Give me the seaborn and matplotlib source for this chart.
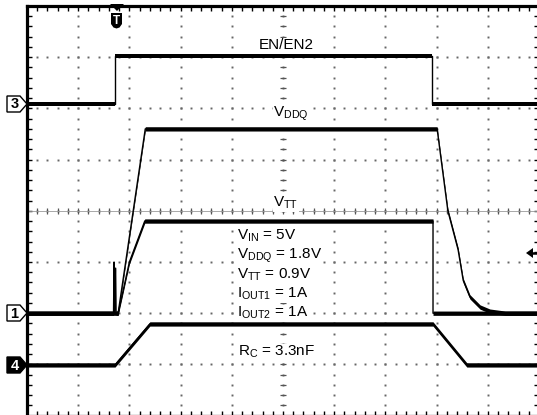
import numpy as np
import pandas as pd
import matplotlib
matplotlib.use("Agg")
import matplotlib.pyplot as plt
from matplotlib.patches import Polygon
import seaborn as sns

# ---- captured waveforms (time in screen divisions, 10 div across) ----
# CH3: EN/EN2 (level in divisions)
en_t = [0.0, 1.72, 1.72, 7.91, 7.91, 10.0]
en_div = [0.0, 0.0, 0.94, 0.94, 0.0, 0.0]

# CH1: VDDQ and VTT (volts, 0.5 V/div)
vddq_t = [0.0, 1.78, 2.31, 8.01, 8.22, 8.42, 8.52, 8.65, 8.85, 9.04, 9.34, 10.0]
vddq_v = [0.0, 0.0, 1.8, 1.8, 1.0, 0.62, 0.32, 0.16, 0.06, 0.02, 0.0, 0.0]

vtt_t = [0.0, 1.69, 1.70, 1.71, 1.73, 1.74, 1.78, 2.00, 2.30, 7.93, 7.93, 10.0]
vtt_v = [0.0, 0.0, 0.50, 0.0, 0.44, 0.0, 0.0, 0.50, 0.9, 0.9, 0.0, 0.0]

# CH4: soft-start ramp (level in divisions)
ss_t = [0.0, 1.72, 2.40, 7.93, 8.59, 10.0]
ss_div = [0.0, 0.0, 0.8, 0.8, 0.0, 0.0]

CH1_V_PER_DIV = 0.5
CH3_POS, CH1_POS, CH4_POS = 6.09, 2.0, 0.99

W, H = 537, 415
sns.set_style("white")
plt.rcParams["font.family"] = ["Liberation Sans", "DejaVu Sans"]
plt.rcParams["mathtext.default"] = "regular"

fig = plt.figure(figsize=(W / 100, H / 100), dpi=100)
ax = fig.add_axes([27 / W, -0.6 / H, 512 / W, 409.6 / H])
ax.set_xlim(0, 10)
ax.set_ylim(0, 8)


def fx(x, y):
    """pixel position (from top-left) -> figure fraction"""
    return x / W, 1 - y / H


# graticule: dotted division lines
sub = np.round(np.arange(0, 10.001, 0.2), 3)
subv = np.round(np.arange(0, 8.001, 0.2), 3)
for i in range(1, 10):
    ax.plot([i] * len(subv), subv, ls="none", marker="s", ms=1.4, mew=0,
            color="#666666", zorder=1)
for j in range(1, 8):
    ax.plot(sub, [j] * len(sub), ls="none", marker="s", ms=1.4, mew=0,
            color="#666666", zorder=1)
# centre crosshair with fine ticks
ax.plot(sub, [4] * len(sub), ls="none", marker="|", ms=4.5, mew=0.9,
        color="#555555", zorder=1)
ax.plot([5] * len(subv), subv, ls="none", marker="_", ms=4.5, mew=0.9,
        color="#555555", zorder=1)
ax.axhline(4, color="#9a9a9a", lw=0.6, zorder=1)

# frame ticks
ax.set_xticks(np.arange(0, 10.01, 1))
ax.set_yticks(np.arange(0, 8.01, 1))
ax.set_xticks(sub, minor=True)
ax.set_yticks(subv, minor=True)
ax.tick_params(which="both", direction="in", length=3.4, width=1.0,
               color="black", top=True, bottom=True, left=True, right=True,
               labelbottom=False, labelleft=False)
for s in ax.spines.values():
    s.set_visible(True)
    s.set_color("black")
    s.set_linewidth(2.3)

# annotations (white backing hides the graticule, traces stay on top)
txt = dict(fontsize=11, color="black", ha="left", va="baseline", zorder=2,
           transform=fig.transFigure,
           bbox=dict(facecolor="white", edgecolor="none", pad=0.3))
labels = [
    ("EN/EN2", 259, 49),
    ("V$_{DDQ}$", 273, 117),
    ("V$_{TT}$", 273, 207),
    ("V$_{IN}$ = 5V", 237, 240),
    ("V$_{DDQ}$ = 1.8V", 237, 259),
    ("V$_{TT}$ = 0.9V", 237, 279),
    ("I$_{OUT1}$ = 1A", 237, 298),
    ("I$_{OUT2}$ = 1A", 237, 317),
    ("R$_{C}$ = 3.3nF", 238, 356),
]
for s, x, y in labels:
    ax.text(*fx(x, y), s, **txt)

# traces
traces = [
    (en_t, np.array(en_div) + CH3_POS),
    (vddq_t, np.array(vddq_v) / CH1_V_PER_DIV + CH1_POS),
    (vtt_t, np.array(vtt_v) / CH1_V_PER_DIV + CH1_POS),
    (ss_t, np.array(ss_div) + CH4_POS),
]
for t, y in traces:
    df = pd.DataFrame({"t": t, "y": y})
    sns.lineplot(data=df, x="t", y="y", estimator=None, sort=False,
                 color="black", lw=1.0, ax=ax, zorder=3)
    band = ax.fill_between(df["t"], df["y"] - 0.042, df["y"] + 0.042,
                           color="black", lw=0, zorder=3)
    band.set_sketch_params(scale=1.0, length=3, randomness=2)
ax.set_xlabel("")
ax.set_ylabel("")


# channel ground markers
def ch_marker(y, label, filled):
    pts = [fx(7, y - 8), fx(20, y - 8), fx(27, y), fx(20, y + 8), fx(7, y + 8)]
    fig.patches.append(Polygon(pts, closed=True, transform=fig.transFigure,
                               facecolor="black" if filled else "white",
                               edgecolor="black", lw=1.0))
    fig.text(*fx(14.5, y + 0.5), label, fontsize=10.5, fontweight="bold",
             color="white" if filled else "black", ha="center", va="center")


ch_marker(104, "3", False)
ch_marker(313, "1", False)
ch_marker(365, "4", True)

# trigger position marker
fig.patches.append(Polygon([fx(110, 4), fx(124, 4), fx(117, 11)], closed=True,
                           transform=fig.transFigure, facecolor="black", lw=0))
shield = [fx(111, 13), fx(122, 13), fx(122, 24), fx(119.5, 27.5),
          fx(116.5, 28.5), fx(113.5, 27.5), fx(111, 24)]
fig.patches.append(Polygon(shield, closed=True, transform=fig.transFigure,
                           facecolor="black", lw=0))
fig.text(*fx(116.5, 20.5), "T", fontsize=8.5, fontweight="bold",
         color="white", ha="center", va="center")

# trigger level arrow
fig.patches.append(Polygon([fx(526, 253), fx(533, 248), fx(533, 258)],
                           closed=True, transform=fig.transFigure,
                           facecolor="black", lw=0))
fig.lines.append(plt.Line2D([fx(532, 0)[0], fx(537, 0)[0]],
                            [fx(0, 253)[1]] * 2, transform=fig.transFigure,
                            color="black", lw=1.8))

fig.savefig("out.png", dpi=100)
